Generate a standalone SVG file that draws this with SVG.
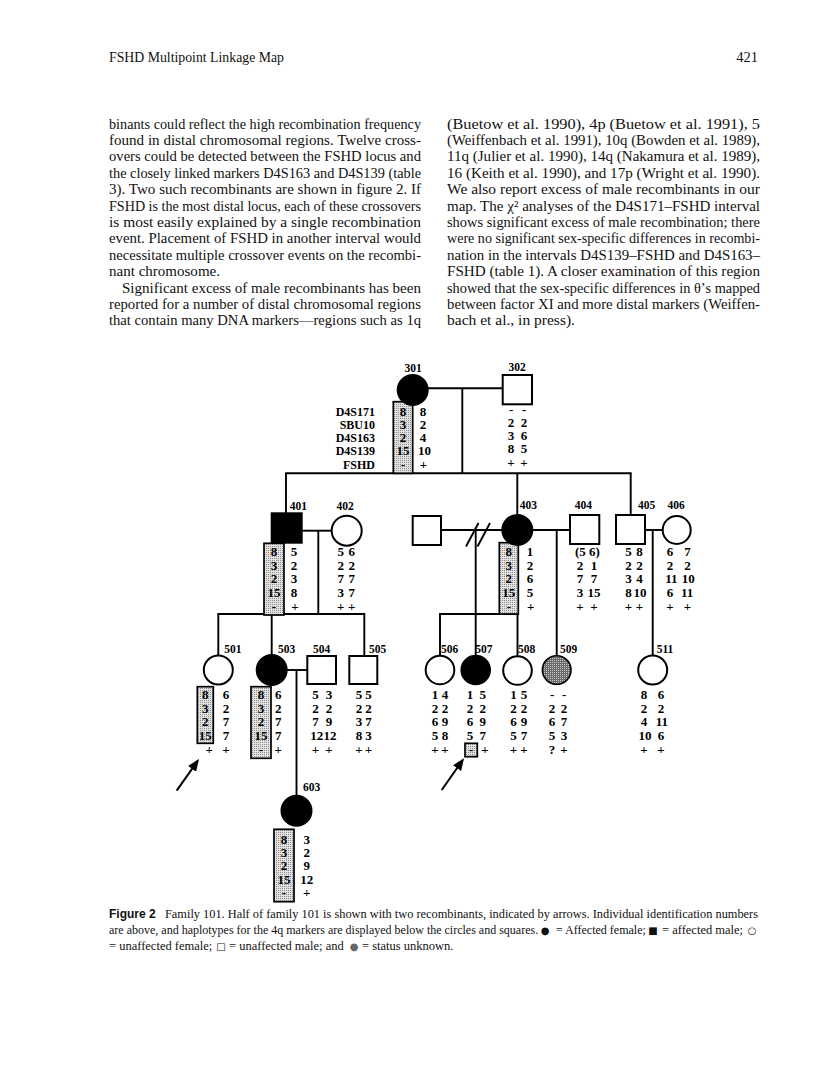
<svg xmlns="http://www.w3.org/2000/svg" width="816" height="1081" viewBox="0 0 816 1081">
<style>
.pg{font-family:"Liberation Serif",serif;font-size:15px;fill:#111}
.cap{font-family:"Liberation Serif",serif;font-size:12.5px;fill:#111}
.csym{font-family:"DejaVu Sans",sans-serif;font-size:10px;fill:#111;text-anchor:middle}
.lbl{font-family:"Liberation Serif",serif;font-weight:bold;font-size:11.5px;text-anchor:middle;fill:#000}
.al{font-family:"Liberation Serif",serif;font-weight:bold;font-size:13px;fill:#000}
.alm{font-family:"Liberation Serif",serif;font-weight:bold;font-size:13px;fill:#000;text-anchor:middle}
.mk{font-family:"Liberation Serif",serif;font-weight:bold;font-size:12px;fill:#000;text-anchor:end}
.ln{stroke:#000;stroke-width:1.9;fill:none}
.sym{stroke:#000;stroke-width:2;fill:#fff}
.aff{stroke:#000;stroke-width:2;fill:#000}
.box{fill:url(#stip);stroke:#000;stroke-width:1.7}
.unk{stroke:#000;stroke-width:1.6;fill:url(#dark)}
</style>
<defs>
<pattern id="stip" width="2" height="2" patternUnits="userSpaceOnUse"><rect width="2" height="2" fill="#e2e2e2"/><rect width="1" height="1" fill="#8c8c8c"/></pattern>
<pattern id="dark" width="2" height="2" patternUnits="userSpaceOnUse"><rect width="2" height="2" fill="#6a6a6a"/><rect width="1" height="1" fill="#c8c8c8"/></pattern>
<marker id="ah" markerUnits="userSpaceOnUse" markerWidth="12" markerHeight="10" refX="10" refY="5" orient="auto"><path d="M0,0 L12,5 L0,10 z" fill="#000"/></marker>
</defs>
<rect width="816" height="1081" fill="#fff"/>

<g id="page-text">
<text class="pg" x="109" y="62" style="font-size:14.5px" textLength="175" lengthAdjust="spacingAndGlyphs">FSHD Multipoint Linkage Map</text>
<text class="pg" x="758" y="62" text-anchor="end" style="font-size:14.5px">421</text>
<text class="pg" x="109" y="128.5" textLength="312" lengthAdjust="spacingAndGlyphs">binants could reflect the high recombination frequency</text>
<text class="pg" x="109" y="144.9" textLength="312" lengthAdjust="spacingAndGlyphs">found in distal chromosomal regions. Twelve cross-</text>
<text class="pg" x="109" y="161.3" textLength="312" lengthAdjust="spacingAndGlyphs">overs could be detected between the FSHD locus and</text>
<text class="pg" x="109" y="177.7" textLength="312" lengthAdjust="spacingAndGlyphs">the closely linked markers D4S163 and D4S139 (table</text>
<text class="pg" x="109" y="194.1" textLength="312" lengthAdjust="spacingAndGlyphs">3). Two such recombinants are shown in figure 2. If</text>
<text class="pg" x="109" y="210.5" textLength="312" lengthAdjust="spacingAndGlyphs">FSHD is the most distal locus, each of these crossovers</text>
<text class="pg" x="109" y="226.9" textLength="312" lengthAdjust="spacingAndGlyphs">is most easily explained by a single recombination</text>
<text class="pg" x="109" y="243.3" textLength="312" lengthAdjust="spacingAndGlyphs">event. Placement of FSHD in another interval would</text>
<text class="pg" x="109" y="259.7" textLength="312" lengthAdjust="spacingAndGlyphs">necessitate multiple crossover events on the recombi-</text>
<text class="pg" x="109" y="276.1" textLength="111" lengthAdjust="spacingAndGlyphs">nant chromosome.</text>
<text class="pg" x="122" y="292.5" textLength="299" lengthAdjust="spacingAndGlyphs">Significant excess of male recombinants has been</text>
<text class="pg" x="109" y="308.9" textLength="312" lengthAdjust="spacingAndGlyphs">reported for a number of distal chromosomal regions</text>
<text class="pg" x="109" y="325.3" textLength="312" lengthAdjust="spacingAndGlyphs">that contain many DNA markers—regions such as 1q</text>

<text class="pg" x="447" y="128.5" textLength="313" lengthAdjust="spacingAndGlyphs">(Buetow et al. 1990), 4p (Buetow et al. 1991), 5</text>
<text class="pg" x="447" y="144.9" textLength="313" lengthAdjust="spacingAndGlyphs">(Weiffenbach et al. 1991), 10q (Bowden et al. 1989),</text>
<text class="pg" x="447" y="161.3" textLength="313" lengthAdjust="spacingAndGlyphs">11q (Julier et al. 1990), 14q (Nakamura et al. 1989),</text>
<text class="pg" x="447" y="177.7" textLength="313" lengthAdjust="spacingAndGlyphs">16 (Keith et al. 1990), and 17p (Wright et al. 1990).</text>
<text class="pg" x="447" y="194.1" textLength="313" lengthAdjust="spacingAndGlyphs">We also report excess of male recombinants in our</text>
<text class="pg" x="447" y="210.5" textLength="313" lengthAdjust="spacingAndGlyphs">map. The χ² analyses of the D4S171–FSHD interval</text>
<text class="pg" x="447" y="226.9" textLength="313" lengthAdjust="spacingAndGlyphs">shows significant excess of male recombination; there</text>
<text class="pg" x="447" y="243.3" textLength="313" lengthAdjust="spacingAndGlyphs">were no significant sex-specific differences in recombi-</text>
<text class="pg" x="447" y="259.7" textLength="313" lengthAdjust="spacingAndGlyphs">nation in the intervals D4S139–FSHD and D4S163–</text>
<text class="pg" x="447" y="276.1" textLength="313" lengthAdjust="spacingAndGlyphs">FSHD (table 1). A closer examination of this region</text>
<text class="pg" x="447" y="292.5" textLength="313" lengthAdjust="spacingAndGlyphs">showed that the sex-specific differences in θ’s mapped</text>
<text class="pg" x="447" y="308.9" textLength="313" lengthAdjust="spacingAndGlyphs">between factor XI and more distal markers (Weiffen-</text>
<text class="pg" x="447" y="325.3" textLength="128" lengthAdjust="spacingAndGlyphs">bach et al., in press).</text>
</g>

<g id="connectors">
<line class="ln" x1="427.7" y1="388.3" x2="502.7" y2="388.3"/>
<line class="ln" x1="462.3" y1="388.3" x2="462.3" y2="473.3"/>
<line class="ln" x1="285.1" y1="473.3" x2="631.6" y2="473.3"/>
<line class="ln" x1="286" y1="473.3" x2="286" y2="513.3"/>
<line class="ln" x1="517.3" y1="473.3" x2="517.3" y2="515"/>
<line class="ln" x1="630.7" y1="473.3" x2="630.7" y2="515"/>
<line class="ln" x1="301.7" y1="530.7" x2="331.7" y2="530.7"/>
<line class="ln" x1="318.3" y1="530.7" x2="318.3" y2="614"/>
<line class="ln" x1="217.4" y1="614" x2="365.2" y2="614"/>
<line class="ln" x1="218.3" y1="614" x2="218.3" y2="655.5"/>
<line class="ln" x1="271.7" y1="614" x2="271.7" y2="655"/>
<line class="ln" x1="364.3" y1="614" x2="364.3" y2="656"/>
<line class="ln" x1="286.7" y1="670" x2="307.3" y2="670"/>
<line class="ln" x1="296.5" y1="670" x2="296.5" y2="795.7"/>
<line class="ln" x1="441" y1="530" x2="502.3" y2="530"/>
<line class="ln" x1="466" y1="546.5" x2="478.5" y2="523"/>
<line class="ln" x1="477.5" y1="546.5" x2="490" y2="523"/>
<line class="ln" x1="475.7" y1="530" x2="475.7" y2="655.7"/>
<line class="ln" x1="532.3" y1="530" x2="570" y2="530"/>
<line class="ln" x1="556.7" y1="530" x2="556.7" y2="655.7"/>
<line class="ln" x1="439.1" y1="614" x2="518.3" y2="614"/>
<line class="ln" x1="440" y1="614" x2="440" y2="655.7"/>
<line class="ln" x1="517.5" y1="614" x2="517.5" y2="656"/>
<line class="ln" x1="645" y1="530" x2="662.7" y2="530"/>
<line class="ln" x1="652.7" y1="530" x2="652.7" y2="655.5"/>
<line x1="176.7" y1="790.7" x2="197.8" y2="760.7" stroke="#000" stroke-width="2" marker-end="url(#ah)"/>
<line x1="441.7" y1="790" x2="462.8" y2="760" stroke="#000" stroke-width="2" marker-end="url(#ah)"/>
</g>

<g id="markers">
<text class="mk" x="375" y="415.5">D4S171</text>
<text class="mk" x="375" y="428.8">SBU10</text>
<text class="mk" x="375" y="442">D4S163</text>
<text class="mk" x="375" y="455.2">D4S139</text>
<text class="mk" x="375" y="468.5">FSHD</text>
</g>

<g id="n301">
<rect class="box" x="393.3" y="401.7" width="19.4" height="71.6"/>
<circle class="aff" cx="412.7" cy="390" r="15"/>
<text class="lbl" x="413" y="372">301</text>
<text class="alm" x="403" y="415.5">8</text><text class="alm" x="403" y="428.8">3</text><text class="alm" x="403" y="442">2</text><text class="alm" x="403" y="455.2">15</text><text class="alm" x="403" y="468.5">-</text>
<text class="alm" x="423" y="415.5">8</text><text class="alm" x="423" y="428.8">2</text><text class="alm" x="423" y="442">4</text><text class="alm" x="424.5" y="455.2">10</text><text class="alm" x="423.5" y="468.5">+</text>
</g>

<g id="n302">
<rect class="sym" x="502.7" y="375" width="29.3" height="29.3"/>
<text class="lbl" x="517" y="371">302</text>
<text class="al" y="413.5"><tspan x="509">-</tspan> <tspan x="522">-</tspan></text>
<text class="al" y="427"><tspan x="507.8">2</tspan> <tspan x="520.8">2</tspan></text>
<text class="al" y="440"><tspan x="507.8">3</tspan> <tspan x="520.8">6</tspan></text>
<text class="al" y="453"><tspan x="507.8">8</tspan> <tspan x="520.8">5</tspan></text>
<text class="al" y="466.5"><tspan x="507.3">+</tspan> <tspan x="520.3">+</tspan></text>
</g>

<g id="n401">
<rect class="box" x="264" y="543.3" width="20" height="71.7"/>
<rect class="aff" x="271.7" y="513.3" width="30" height="29.4"/>
<text class="lbl" x="298.3" y="510">401</text>
<text class="alm" x="274" y="556">8</text><text class="alm" x="274" y="569.7">3</text><text class="alm" x="274" y="583.3">2</text><text class="alm" x="274" y="597">15</text><text class="alm" x="274" y="610.7">-</text>
<text class="alm" x="294" y="556">5</text><text class="alm" x="294" y="569.7">2</text><text class="alm" x="294" y="583.3">3</text><text class="alm" x="294" y="597">8</text><text class="alm" x="295" y="610.7">+</text>
</g>

<g id="n402">
<circle class="sym" cx="346.7" cy="530.7" r="15"/>
<text class="lbl" x="345" y="510">402</text>
<text class="al" y="556"><tspan x="337.5">5</tspan> <tspan x="348.5">6</tspan></text>
<text class="al" y="569.7"><tspan x="337.5">2</tspan> <tspan x="348.5">2</tspan></text>
<text class="al" y="583.3"><tspan x="337.5">7</tspan> <tspan x="348.5">7</tspan></text>
<text class="al" y="597"><tspan x="337.5">3</tspan> <tspan x="348.5">7</tspan></text>
<text class="al" y="610.7"><tspan x="337">+</tspan> <tspan x="348">+</tspan></text>
</g>

<g id="n403spouse">
<rect class="sym" x="412.7" y="516" width="28.3" height="29"/>
</g>

<g id="n403">
<rect class="box" x="499.3" y="542.7" width="19" height="71.3"/>
<circle class="aff" cx="517.3" cy="530" r="15"/>
<text class="lbl" x="528.3" y="509">403</text>
<text class="alm" x="508.8" y="556">8</text><text class="alm" x="508.8" y="569.7">3</text><text class="alm" x="508.8" y="583.3">2</text><text class="alm" x="508.8" y="597">15</text><text class="alm" x="508.8" y="610.7">-</text>
<text class="alm" x="530" y="556">1</text><text class="alm" x="530" y="569.7">2</text><text class="alm" x="530" y="583.3">6</text><text class="alm" x="530" y="597">5</text><text class="alm" x="530.7" y="610.7">+</text>
</g>

<g id="n404">
<rect class="sym" x="570" y="515" width="29.3" height="29"/>
<text class="lbl" x="583.3" y="509">404</text>
<text class="alm" x="587.5" y="556">(5 6)</text>
<text class="al" y="569.7"><tspan x="576.7">2</tspan> <tspan x="590.7">1</tspan></text>
<text class="al" y="583.3"><tspan x="576.7">7</tspan> <tspan x="590.7">7</tspan></text>
<text class="al" y="597"><tspan x="576.7">3</tspan> <tspan x="587.5">15</tspan></text>
<text class="al" y="610.7"><tspan x="576.3">+</tspan> <tspan x="590.3">+</tspan></text>
</g>

<g id="n405">
<rect class="sym" x="616" y="515" width="29" height="29"/>
<text class="lbl" x="646.7" y="509">405</text>
<text class="al" y="556"><tspan x="625.2">5</tspan> <tspan x="636.2">8</tspan></text>
<text class="al" y="569.7"><tspan x="625.2">2</tspan> <tspan x="636.2">2</tspan></text>
<text class="al" y="583.3"><tspan x="625.2">3</tspan> <tspan x="636.2">4</tspan></text>
<text class="al" y="597"><tspan x="625.2">8</tspan> <tspan x="633.5">10</tspan></text>
<text class="al" y="610.7"><tspan x="624.8">+</tspan> <tspan x="635.8">+</tspan></text>
</g>

<g id="n406">
<circle class="sym" cx="676.7" cy="530" r="14"/>
<text class="lbl" x="676" y="509">406</text>
<text class="al" y="556"><tspan x="666.8">6</tspan> <tspan x="684.3">7</tspan></text>
<text class="al" y="569.7"><tspan x="666.8">2</tspan> <tspan x="684.3">2</tspan></text>
<text class="al" y="583.3"><tspan x="665.2">11</tspan> <tspan x="681.8">10</tspan></text>
<text class="al" y="597"><tspan x="666.8">6</tspan> <tspan x="681">11</tspan></text>
<text class="al" y="610.7"><tspan x="666.3">+</tspan> <tspan x="683.8">+</tspan></text>
</g>

<g id="n501">
<circle class="sym" cx="218.3" cy="670" r="14.5"/>
<text class="lbl" x="232.8" y="652.5">501</text>
<rect class="box" x="197.3" y="686.7" width="16" height="56.6"/>
<text class="alm" x="205.3" y="699">8</text><text class="alm" x="205.3" y="712.7">3</text><text class="alm" x="205.3" y="726.3">2</text><text class="alm" x="205.3" y="740">15</text><text class="alm" x="209.3" y="754">+</text>
<text class="alm" x="226" y="699">6</text><text class="alm" x="226" y="712.7">2</text><text class="alm" x="226" y="726.3">7</text><text class="alm" x="226" y="740">7</text><text class="alm" x="226" y="754">+</text>
</g>

<g id="n503">
<rect class="box" x="251" y="686.7" width="20" height="71.6"/>
<circle class="aff" cx="271.7" cy="670" r="15"/>
<text class="lbl" x="286.5" y="652.5">503</text>
<text class="alm" x="261" y="699">8</text><text class="alm" x="261" y="712.7">3</text><text class="alm" x="261" y="726.3">2</text><text class="alm" x="261" y="740">15</text><text class="alm" x="261" y="754">-</text>
<text class="alm" x="278.3" y="699">6</text><text class="alm" x="278.3" y="712.7">2</text><text class="alm" x="278.3" y="726.3">7</text><text class="alm" x="278.3" y="740">7</text><text class="alm" x="278.3" y="754">+</text>
</g>

<g id="n504">
<rect class="sym" x="307.3" y="656" width="28.7" height="28"/>
<text class="lbl" x="321.7" y="652.5">504</text>
<text class="al" y="699"><tspan x="312.2">5</tspan> <tspan x="325.7">3</tspan></text>
<text class="al" y="712.7"><tspan x="312.2">2</tspan> <tspan x="325.7">2</tspan></text>
<text class="al" y="726.3"><tspan x="312.2">7</tspan> <tspan x="325.7">9</tspan></text>
<text class="al" y="740"><tspan x="310.2">12</tspan> <tspan x="323.5">12</tspan></text>
<text class="al" y="754"><tspan x="311.8">+</tspan> <tspan x="325.3">+</tspan></text>
</g>

<g id="n505">
<rect class="sym" x="349.3" y="656" width="28" height="28"/>
<text class="lbl" x="377.5" y="652.5">505</text>
<text class="al" y="699"><tspan x="355.8">5</tspan> <tspan x="365.3">5</tspan></text>
<text class="al" y="712.7"><tspan x="355.8">2</tspan> <tspan x="365.3">2</tspan></text>
<text class="al" y="726.3"><tspan x="355.8">3</tspan> <tspan x="365.3">7</tspan></text>
<text class="al" y="740"><tspan x="355.8">8</tspan> <tspan x="365.3">3</tspan></text>
<text class="al" y="754"><tspan x="355.3">+</tspan> <tspan x="364.8">+</tspan></text>
</g>

<g id="n506">
<circle class="sym" cx="440" cy="670" r="14.3"/>
<text class="lbl" x="449.7" y="652.5">506</text>
<text class="al" y="699"><tspan x="431.8">1</tspan> <tspan x="441.8">4</tspan></text>
<text class="al" y="712.7"><tspan x="431.8">2</tspan> <tspan x="441.8">2</tspan></text>
<text class="al" y="726.3"><tspan x="431.8">6</tspan> <tspan x="441.8">9</tspan></text>
<text class="al" y="740"><tspan x="431.8">5</tspan> <tspan x="441.8">8</tspan></text>
<text class="al" y="754"><tspan x="431.3">+</tspan> <tspan x="441.3">+</tspan></text>
</g>

<g id="n507">
<circle class="aff" cx="475.7" cy="670" r="14.3"/>
<text class="lbl" x="483.8" y="652.5">507</text>
<text class="al" y="699"><tspan x="466.8">1</tspan> <tspan x="479.5">5</tspan></text>
<text class="al" y="712.7"><tspan x="466.8">2</tspan> <tspan x="479.5">2</tspan></text>
<text class="al" y="726.3"><tspan x="466.8">6</tspan> <tspan x="479.5">9</tspan></text>
<text class="al" y="740"><tspan x="466.8">5</tspan> <tspan x="479.5">7</tspan></text>
<rect class="box" x="465" y="743.3" width="12.3" height="13.4" stroke-width="2"/>
<text class="al" y="754"><tspan x="469">-</tspan> <tspan x="481.3">+</tspan></text>
</g>

<g id="n508">
<circle class="sym" cx="517.5" cy="670.5" r="14.3"/>
<text class="lbl" x="526.7" y="652.5">508</text>
<text class="al" y="699"><tspan x="510.3">1</tspan> <tspan x="520.8">5</tspan></text>
<text class="al" y="712.7"><tspan x="510.3">2</tspan> <tspan x="520.8">2</tspan></text>
<text class="al" y="726.3"><tspan x="510.3">6</tspan> <tspan x="520.8">9</tspan></text>
<text class="al" y="740"><tspan x="510.3">5</tspan> <tspan x="520.8">7</tspan></text>
<text class="al" y="754"><tspan x="509.8">+</tspan> <tspan x="520.3">+</tspan></text>
</g>

<g id="n509">
<circle class="unk" cx="556.7" cy="670" r="14.3"/>
<text class="lbl" x="568.7" y="652.5">509</text>
<text class="al" y="699"><tspan x="550">-</tspan> <tspan x="562">-</tspan></text>
<text class="al" y="712.7"><tspan x="548.8">2</tspan> <tspan x="560.8">2</tspan></text>
<text class="al" y="726.3"><tspan x="548.8">6</tspan> <tspan x="560.8">7</tspan></text>
<text class="al" y="740"><tspan x="548.8">5</tspan> <tspan x="560.8">3</tspan></text>
<text class="al" y="754"><tspan x="548.8">?</tspan> <tspan x="560.3">+</tspan></text>
</g>

<g id="n511">
<circle class="sym" cx="652.7" cy="670" r="14.5"/>
<text class="lbl" x="665" y="652.5">511</text>
<text class="al" y="699"><tspan x="640.8">8</tspan> <tspan x="657.8">6</tspan></text>
<text class="al" y="712.7"><tspan x="640.8">2</tspan> <tspan x="657.8">2</tspan></text>
<text class="al" y="726.3"><tspan x="640.8">4</tspan> <tspan x="655.8">11</tspan></text>
<text class="al" y="740"><tspan x="638.5">10</tspan> <tspan x="657.8">6</tspan></text>
<text class="al" y="754"><tspan x="640.3">+</tspan> <tspan x="657.3">+</tspan></text>
</g>

<g id="n603">
<circle class="aff" cx="296.5" cy="810.7" r="15"/>
<text class="lbl" x="311.7" y="790.5">603</text>
<rect class="box" x="274" y="829.3" width="20" height="72.4"/>
<text class="alm" x="284" y="843.5">8</text><text class="alm" x="284" y="856.8">3</text><text class="alm" x="284" y="870.2">2</text><text class="alm" x="284" y="883.6">15</text><text class="alm" x="284" y="897">-</text>
<text class="alm" x="306.7" y="843.5">3</text><text class="alm" x="306.7" y="856.8">2</text><text class="alm" x="306.7" y="870.2">9</text><text class="alm" x="306.7" y="883.6">12</text><text class="alm" x="306.7" y="897">+</text>
</g>

<g id="caption">
<text x="109" y="918" font-family="Liberation Sans, sans-serif" font-weight="bold" font-size="12" fill="#111">Figure 2</text>
<text class="cap" x="165" y="918" textLength="593" lengthAdjust="spacingAndGlyphs">Family 101. Half of family 101 is shown with two recombinants, indicated by arrows. Individual identification numbers</text>
<text class="cap" x="109" y="934" style="font-size:12px">are above, and haplotypes for the 4q markers are displayed below the circles and squares.</text>
<text class="csym" x="545" y="934">●</text>
<text class="cap" x="556" y="934" style="font-size:12px">= Affected female;</text>
<text class="csym" x="653" y="934">■</text>
<text class="cap" x="662" y="934">= affected male;</text>
<text class="csym" x="752" y="934">○</text>
<text class="cap" x="109" y="950">= unaffected female;</text>
<text class="csym" x="221" y="950">□</text>
<text class="cap" x="229" y="950">= unaffected male; and</text>
<text class="csym" x="354" y="950" style="fill:#666">●</text>
<text class="cap" x="362" y="950">= status unknown.</text>
</g>
</svg>
